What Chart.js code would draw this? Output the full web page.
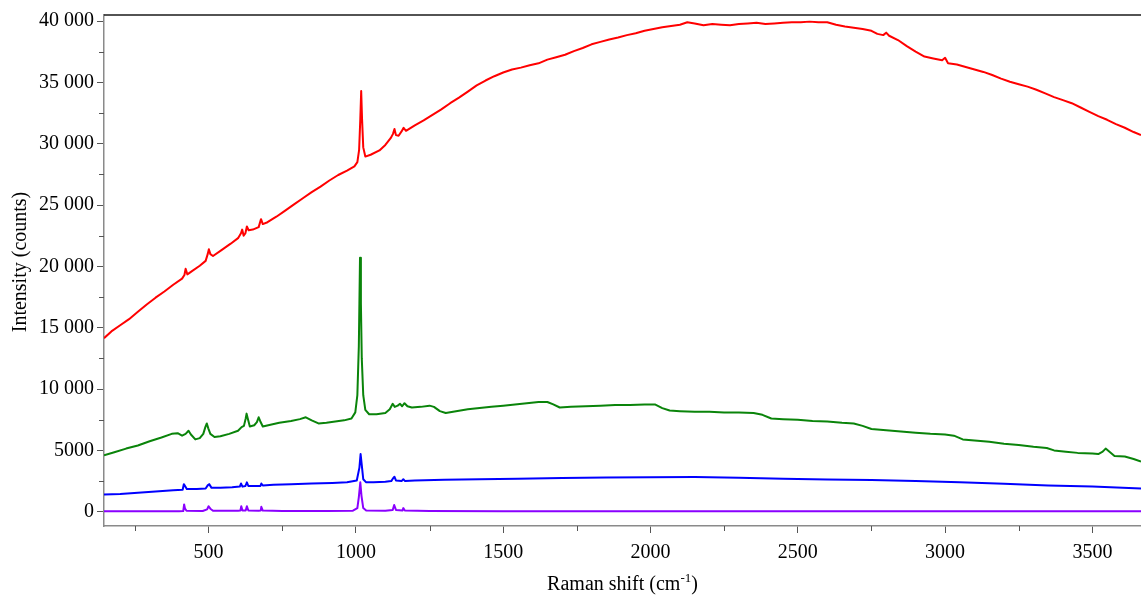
<!DOCTYPE html>
<html>
<head>
<meta charset="utf-8">
<script src="https://cdn.jsdelivr.net/npm/chart.js@4"></script>
<style>
  html, body { margin: 0; padding: 0; background: #fff; }
  #wrap { width: 1141px; height: 596px; }
</style>
</head>
<body>
<div id="wrap"><canvas id="ramanChart" width="1141" height="596"></canvas></div>
<script>
// spectra (Raman shift in cm-1, intensity in counts)
const redShift = [145,170,200,230,260,290,320,350,380,410,418,422,428,440,470,490,497,501,506,515,545,575,600,610,614,619,625,630,636,650,670,678,684,700,730,760,790,820,850,880,910,940,970,995,1005,1011,1015,1018,1021,1025,1032,1050,1080,1100,1118,1126,1131,1136,1145,1155,1162,1170,1200,1230,1260,1290,1320,1350,1380,1410,1440,1470,1500,1530,1560,1590,1620,1650,1680,1710,1740,1770,1800,1830,1860,1890,1920,1950,1980,2010,2040,2070,2100,2125,2150,2180,2210,2240,2270,2300,2330,2360,2390,2420,2450,2480,2510,2540,2570,2600,2630,2660,2690,2720,2750,2770,2790,2800,2810,2840,2870,2900,2930,2960,2990,3000,3010,3040,3070,3100,3130,3160,3190,3220,3250,3280,3310,3340,3370,3400,3430,3460,3490,3520,3550,3580,3610,3640,3665];
const redCounts = [14150,14700,15200,15700,16300,16900,17450,17950,18500,19000,19300,19800,19350,19550,20050,20450,21000,21400,21000,20850,21350,21850,22300,22700,23000,22500,22700,23250,22950,23000,23200,23850,23450,23600,24050,24550,25050,25550,26050,26500,27000,27450,27800,28150,28500,29500,32000,34300,32000,29700,28950,29100,29450,29900,30450,30800,31200,30700,30650,31000,31300,31050,31500,31900,32350,32800,33300,33750,34250,34750,35150,35500,35800,36050,36200,36400,36550,36850,37050,37250,37550,37800,38100,38300,38500,38650,38850,39000,39200,39350,39500,39600,39700,39900,39800,39650,39750,39700,39650,39750,39800,39850,39750,39800,39850,39900,39900,39950,39900,39900,39700,39550,39450,39350,39200,38950,38850,39050,38800,38450,37950,37500,37100,36950,36800,37000,36550,36450,36250,36050,35850,35600,35300,35050,34850,34650,34400,34100,33800,33550,33300,32950,32600,32250,31950,31600,31300,30950,30700];

const greenShift = [145,180,220,260,300,340,375,395,410,422,432,440,455,470,482,489,494,499,506,520,540,570,600,612,620,626,629,633,640,655,664,670,675,684,710,740,780,810,830,850,873,900,930,960,985,998,1005,1010,1014,1017,1020,1025,1032,1045,1070,1100,1115,1125,1132,1142,1150,1157,1165,1175,1190,1220,1250,1265,1285,1305,1340,1380,1420,1460,1500,1540,1580,1620,1650,1670,1692,1730,1780,1830,1880,1930,1980,2015,2040,2065,2100,2150,2200,2250,2300,2350,2380,2410,2450,2500,2550,2600,2650,2690,2720,2750,2800,2850,2900,2950,3000,3030,3060,3100,3150,3200,3250,3300,3345,3370,3410,3450,3500,3520,3535,3545,3555,3575,3610,3640,3665];
const greenCounts = [4600,4850,5150,5400,5750,6050,6350,6400,6200,6350,6600,6300,5900,6000,6350,6900,7200,6800,6350,6100,6150,6350,6600,6900,7000,7600,8000,7600,6950,7050,7300,7700,7400,6950,7100,7250,7400,7550,7700,7450,7200,7250,7350,7450,7600,8100,9500,13500,20700,17000,12500,9500,8300,7950,7950,8050,8350,8800,8550,8650,8800,8600,8850,8600,8500,8550,8650,8550,8200,8050,8200,8350,8450,8550,8650,8750,8850,8950,8950,8750,8500,8550,8600,8650,8700,8700,8750,8750,8450,8250,8200,8150,8150,8100,8100,8050,7900,7600,7550,7500,7400,7350,7250,7200,7000,6750,6650,6550,6450,6350,6300,6200,5900,5800,5700,5550,5450,5300,5200,5000,4900,4800,4750,4700,4900,5150,4950,4550,4500,4300,4100];

const blueShift = [145,200,260,320,380,412,416,420,426,460,490,497,502,510,540,580,606,610,615,625,630,635,660,676,679,684,720,780,850,920,970,1003,1012,1016,1020,1025,1035,1060,1100,1120,1127,1131,1136,1155,1161,1167,1200,1300,1420,1550,1700,1850,2000,2150,2300,2450,2600,2750,2900,3050,3200,3350,3500,3665];
const blueCounts = [1400,1450,1550,1650,1750,1800,2250,2100,1850,1850,1900,2150,2250,1950,1950,2000,2050,2300,2050,2100,2400,2100,2100,2100,2300,2150,2200,2250,2300,2350,2400,2550,3600,4700,3800,2650,2400,2400,2450,2500,2750,2850,2550,2500,2650,2500,2550,2600,2650,2700,2750,2800,2820,2830,2780,2700,2640,2580,2500,2400,2280,2150,2050,1900];

const purpleShift = [145,300,400,414,417,420,425,480,495,500,506,515,600,608,611,615,626,630,635,670,677,679,684,750,900,990,1005,1010,1015,1019,1025,1035,1100,1125,1130,1136,1158,1161,1166,1250,1500,2000,2500,3000,3665];
const purpleCounts = [50,50,50,60,600,250,80,60,200,450,250,80,80,100,450,100,100,450,100,80,100,400,100,70,70,90,300,1200,2400,1300,300,100,80,150,550,150,100,300,100,60,50,50,40,40,40];

// axis ticks
const xTickValues = [250,500,750,1000,1250,1500,1750,2000,2250,2500,2750,3000,3250,3500];
const xTickLabels = ['','500','','1000','','1500','','2000','','2500','','3000','','3500'];
const yTickValues = [0,2500,5000,7500,10000,12500,15000,17500,20000,22500,25000,27500,30000,32500,35000,37500,40000];
const yTickLabels = ['0','','5000','','10 000','','15 000','','20 000','','25 000','','30 000','','35 000','','40 000'];

const serif = "'Liberation Serif', 'Times New Roman', serif";

function toPoints(xs, ys) {
    return xs.map((x, i) => ({ x: x, y: ys[i] }));
}

function isMajorTick(labels, index) {
    return labels[index] !== '';
}

// minor ticks, top frame line and the two axis titles
const framePlugin = {
    id: 'framePlugin',
    afterDraw: (chart) => {
        const { ctx, chartArea } = chart;
        const xs = chart.scales.x;
        const ys = chart.scales.y;
        ctx.save();

        // top frame
        ctx.strokeStyle = '#1a1a1a';
        ctx.lineWidth = 1.5;
        ctx.beginPath();
        ctx.moveTo(chartArea.left, chartArea.top);
        ctx.lineTo(chartArea.right, chartArea.top);
        ctx.stroke();

        // minor ticks
        ctx.strokeStyle = '#555';
        ctx.lineWidth = 1;
        ctx.beginPath();
        xTickValues.forEach((v, i) => {
            if (isMajorTick(xTickLabels, i)) return;
            const px = Math.round(xs.getPixelForValue(v)) + 0.5;
            ctx.moveTo(px, chartArea.bottom);
            ctx.lineTo(px, chartArea.bottom + 5);
        });
        yTickValues.forEach((v, i) => {
            if (isMajorTick(yTickLabels, i)) return;
            const py = Math.round(ys.getPixelForValue(v)) + 0.5;
            ctx.moveTo(chartArea.left, py);
            ctx.lineTo(chartArea.left - 5, py);
        });
        ctx.stroke();

        const mainFont = '20px ' + serif;
        const supFont = '13px ' + serif;
        ctx.fillStyle = '#000';

        // y axis title, a little above the middle of the axis as in the original
        ctx.save();
        ctx.translate(21, 262);
        ctx.rotate(-Math.PI / 2);
        ctx.font = mainFont;
        ctx.textAlign = 'center';
        ctx.textBaseline = 'middle';
        ctx.fillText('Intensity (counts)', 0, 0);
        ctx.restore();

        // x axis title: Raman shift (cm-1) with superscript
        const partA = 'Raman shift (cm';
        const partSup = '-1';
        const partB = ')';
        ctx.textBaseline = 'alphabetic';
        ctx.textAlign = 'left';
        ctx.font = mainFont;
        const wA = ctx.measureText(partA).width;
        const wB = ctx.measureText(partB).width;
        ctx.font = supFont;
        const wS = ctx.measureText(partSup).width;
        const total = wA + wS + wB;
        let tx = (chartArea.left + chartArea.right) / 2 - total / 2;
        const base = 590;
        ctx.font = mainFont;
        ctx.fillText(partA, tx, base);
        tx += wA;
        ctx.font = supFont;
        ctx.fillText(partSup, tx, base - 8);
        tx += wS;
        ctx.font = mainFont;
        ctx.fillText(partB, tx, base);

        ctx.restore();
    }
};

const lineStyle = {
    showLine: true,
    pointRadius: 0,
    borderWidth: 2,
    tension: 0,
    borderJoinStyle: 'round',
    fill: false
};

const data = {
    datasets: [
        Object.assign({ label: 'red', data: toPoints(redShift, redCounts), borderColor: '#ff0000' }, lineStyle),
        Object.assign({ label: 'green', data: toPoints(greenShift, greenCounts), borderColor: '#0a840a' }, lineStyle),
        Object.assign({ label: 'blue', data: toPoints(blueShift, blueCounts), borderColor: '#0000ff' }, lineStyle),
        Object.assign({ label: 'purple', data: toPoints(purpleShift, purpleCounts), borderColor: '#8a00ff' }, lineStyle)
    ]
};

const options = {
    responsive: false,
    animation: false,
    layout: { padding: { top: 13, right: 0, bottom: 0, left: 0 } },
    plugins: {
        legend: { display: false },
        tooltip: { enabled: false }
    },
    scales: {
        x: {
            type: 'linear',
            position: 'bottom',
            min: 145,
            max: 3665,
            afterBuildTicks: (scale) => { scale.ticks = xTickValues.map(v => ({ value: v })); },
            afterFit: (scale) => { scale.height = 70; },
            border: { display: true, color: '#8a8a8a', width: 1.5 },
            grid: {
                drawOnChartArea: false,
                drawTicks: true,
                tickLength: 7,
                tickWidth: 1,
                tickColor: (ctx) => isMajorTick(xTickLabels, ctx.index) ? '#555' : 'rgba(0,0,0,0)'
            },
            ticks: {
                autoSkip: false,
                maxRotation: 0,
                padding: 8,
                color: '#000',
                font: { family: serif, size: 20 },
                callback: (value, index) => xTickLabels[index]
            }
        },
        y: {
            type: 'linear',
            min: -1160,
            max: 40490,
            afterBuildTicks: (scale) => { scale.ticks = yTickValues.map(v => ({ value: v })); },
            afterFit: (scale) => { scale.width = 104; },
            border: { display: true, color: '#8a8a8a', width: 1.5 },
            grid: {
                drawOnChartArea: false,
                drawTicks: true,
                tickLength: 7,
                tickWidth: 1,
                tickColor: (ctx) => isMajorTick(yTickLabels, ctx.index) ? '#555' : 'rgba(0,0,0,0)'
            },
            ticks: {
                autoSkip: false,
                padding: 3,
                color: '#000',
                font: { family: serif, size: 20 },
                callback: (value, index) => yTickLabels[index]
            }
        }
    }
};

new Chart(document.getElementById('ramanChart').getContext('2d'), {
    type: 'scatter',
    data: data,
    options: options,
    plugins: [framePlugin]
});
</script>
</body>
</html>
